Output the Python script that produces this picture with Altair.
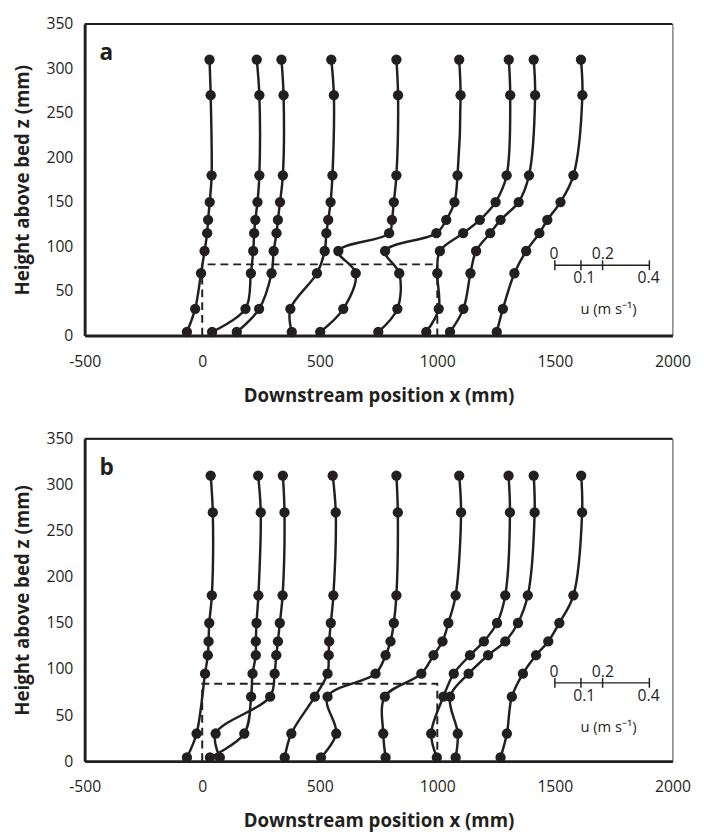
import altair as alt
import pandas as pd

# measurement heights (mm above bed), top to bottom
heights = [310, 270, 180, 150, 130, 115, 95, 70, 30, 4]

# panel a: profile positions (x = station + scaled u), mm
a1 = [31, 36, 40, 32, 25, 21, 10, -5, -30, -65]
a2 = [232, 243, 243, 235, 226, 221, 217, 207, 184, 42]
a3 = [337, 346, 343, 331, 322, 316, 304, 295, 242, 147]
a4 = [549, 560, 554, 546, 536, 528, 521, 488, 375, 381]
a5 = [826, 833, 826, 815, 807, 795, 579, 653, 600, 502]
a6 = [1093, 1099, 1086, 1073, 1038, 996, 778, 838, 830, 749]
a7 = [1304, 1310, 1295, 1248, 1181, 1110, 1011, 1000, 1006, 953]
a8 = [1410, 1416, 1390, 1346, 1269, 1225, 1165, 1141, 1111, 1054]
a9 = [1611, 1617, 1579, 1524, 1468, 1434, 1378, 1328, 1279, 1253]

# panel b
b1 = [36, 45, 41, 30, 27, 24, 12, None, -24, -65]
b2 = [238, 249, 239, 231, 228, 228, 214, 208, 179, 33]
b3 = [343, 350, 342, 330, 322, 315, 308, 289, 57, 75]
b4 = [555, 568, 558, 547, 540, 538, 533, 479, 379, 351]
b5 = [826, 832, 826, 815, 801, 780, 737, 533, 570, 505]
b6 = [1093, 1101, 1078, 1047, 1022, 984, 932, 777, 770, 780]
b7 = [1303, 1309, 1289, 1254, 1198, 1139, 1070, 1026, 974, 998]
b8 = [1410, 1414, 1385, 1343, 1289, 1216, 1133, 1054, 1087, 1078]
b9 = [1612, 1616, 1579, 1519, 1472, 1420, 1364, 1317, 1296, 1269]

# dashed outline of the canopy region: x extent (mm) and heights per panel
canopy_x = [0, 0, 1000, 1000]
canopy_h_a = 80
canopy_h_b = 84

# velocity scale bar (u in m/s shown as mm along x)
bar_tick_x = [1500, 1611, 1703, 1902]
bar_above_text = ["0", "0.2"]
bar_above_x = [1496, 1704]
bar_below_text = ["0.1", "0.4"]
bar_below_x = [1625, 1899]
bar_unit_text = "u (m s\u207b\u00b9)"
bar_unit_x = 1728
bar_h_a = 79
bar_h_b = 85

x_ticks = [-500, 0, 500, 1000, 1500, 2000]
y_ticks = [0, 50, 100, 150, 200, 250, 300, 350]

INK = "#231f20"
FONT = "Open Sans"
W = 598


def profile_df(profiles):
    rows = []
    for i, vals in enumerate(profiles):
        for z, x in zip(heights, vals):
            if x is None:
                continue
            rows.append({"profile": i + 1, "x": x, "z": z})
    return pd.DataFrame(rows)


def panel(profiles, letter, canopy_h, bar_h, H):
    df = profile_df(profiles)
    xs = alt.Scale(domain=[-500, 2000], nice=False, zero=False)
    ys = alt.Scale(domain=[0, 350], nice=False)
    X = alt.X("x:Q", scale=xs, axis=alt.Axis(
        title="Downstream position x (mm)", values=x_ticks, labelFlush=False,
        labelOverlap=False, labelPadding=18, titlePadding=18,
        labelExpr="datum.value + ''"))
    Y = alt.Y("z:Q", scale=ys, axis=alt.Axis(
        title="Height above bed z (mm)", values=y_ticks, labelOverlap=False,
        labelPadding=12, titlePadding=14, labelExpr="datum.value + ''"))

    rect_df = pd.DataFrame({
        "x": canopy_x, "z": [0, canopy_h, canopy_h, 0], "o": [0, 1, 2, 3]})
    rect = alt.Chart(rect_df).mark_line(
        color=INK, strokeWidth=2, strokeDash=[8, 5]).encode(
        x=X, y=Y, order="o:Q")

    base = alt.Chart(df)
    lines = base.mark_line(color=INK, strokeWidth=2.5,
                           interpolate="catmull-rom").encode(
        x=X, y=Y, detail="profile:N", order=alt.Order("z:Q"))
    pts = base.mark_circle(color=INK, opacity=1, size=110).encode(x=X, y=Y)

    bar_df = pd.DataFrame({"x": [bar_tick_x[0]], "x2": [bar_tick_x[-1]],
                           "z": [bar_h]})
    bar = alt.Chart(bar_df).mark_rule(color=INK, strokeWidth=1.5).encode(
        x=X, x2="x2:Q", y=Y)
    ticks_df = pd.DataFrame({"x": bar_tick_x, "z": [bar_h] * len(bar_tick_x)})
    bticks = alt.Chart(ticks_df).mark_tick(
        color=INK, orient="vertical", size=10, thickness=1.5, opacity=1).encode(
        x=X, y=Y)
    above = alt.Chart(pd.DataFrame({
        "x": bar_above_x, "z": [bar_h] * 2, "t": bar_above_text})).mark_text(
        font=FONT, fontSize=16, color=INK, baseline="middle", dy=-11).encode(
        x=X, y=Y, text="t:N")
    below = alt.Chart(pd.DataFrame({
        "x": bar_below_x, "z": [bar_h] * 2, "t": bar_below_text})).mark_text(
        font=FONT, fontSize=16, color=INK, baseline="middle", dy=13).encode(
        x=X, y=Y, text="t:N")
    unit = alt.Chart(pd.DataFrame({
        "x": [bar_unit_x], "z": [bar_h], "t": [bar_unit_text]})).mark_text(
        font=FONT, fontSize=15, color=INK, baseline="middle", dy=45).encode(
        x=X, y=Y, text="t:N")

    lab = alt.Chart(pd.DataFrame({"t": [letter]})).mark_text(
        font=FONT, fontSize=23, fontWeight="bold", color=INK, align="left",
        baseline="alphabetic").encode(
        x=alt.value(15), y=alt.value(37), text="t:N")
    top = alt.Chart(pd.DataFrame({"t": [0]})).mark_rule(
        color=INK, strokeWidth=2).encode(
        x=alt.value(0), x2=alt.value(W), y=alt.value(0))

    return alt.layer(rect, lines, pts, bar, bticks, above, below, unit, lab,
                     top).properties(width=W, height=H)


pa = panel([a1, a2, a3, a4, a5, a6, a7, a8, a9], "a", canopy_h_a, bar_h_a, 317)
pb = panel([b1, b2, b3, b4, b5, b6, b7, b8, b9], "b", canopy_h_b, bar_h_b, 328)

chart = alt.vconcat(pa, pb, spacing=24).properties(
    padding={"left": 5, "top": 0, "right": 5, "bottom": 5}
).configure_view(stroke="#444", strokeWidth=1).configure_axis(
    grid=False, ticks=False, domainColor=INK, domainWidth=3,
    labelFont=FONT, labelFontSize=16, labelColor=INK,
    titleFont=FONT, titleFontSize=19, titleFontWeight="bold", titleColor=INK)

chart.save("out.html", embed_options={"renderer": "svg", "actions": False})
